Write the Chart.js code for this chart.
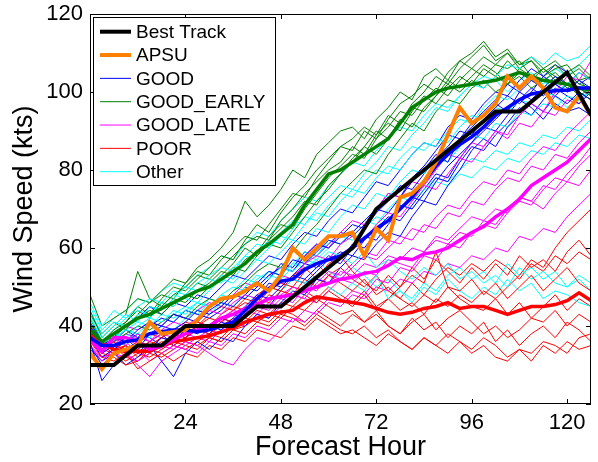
<!DOCTYPE html>
<html>
<head>
<meta charset="utf-8">
<script src="https://cdn.jsdelivr.net/npm/chart.js@4.4.1/dist/chart.umd.min.js"></script>
<style>
  body { margin: 0; background: #fff; }
  #wrap { width: 598px; height: 462px; }
</style>
</head>
<body>
<div id="wrap"><canvas id="windChart" width="598" height="462"></canvas></div>
<script>
// forecast hours (ensemble members, APSU and means every 3 h)
var hours = [0,3,6,9,12,15,18,21,24,27,30,33,36,39,42,45,48,51,54,57,60,63,66,69,72,75,78,81,84,87,90,93,96,99,102,105,108,111,114,117,120,123,126];
// best track is 6-hourly
var bestHours = [0,6,12,18,24,30,36,42,48,54,60,66,72,78,84,90,96,102,108,114,120,126];
var bestTrack = [30,30,35,35,40,40,40,45,45,50,55,60,70,75,80,85,90,95,95,100,105,94];

var apsu = [33,29,33,34,35,41,38,38.5,39,41.5,45, 47,47.5,49,51,49,53,60,57,60,63,63, 64,58,65,62,73,74,77,82,89,96,92, 94,97,104,101,104,101,96,95,99,94];

// group means (thick lines)
var meanGood  = [37,35,35,36,36.5,38,38.5,39,39,38.5,39, 40,41,44,47,49.5,51.5,52,54.5,56,57,58, 60,62.5,65,67,70,73,77,81,84,86.5,88.5, 91,94,96,98,99.5,100,100.3,100.5,101,101];
var meanEarly = [39,36,38,40,42,43,44.5,46,47.5,49,50, 52,54,56,59,61,63.5,66,71,75,79,80, 82,84,86,88,92,96,98,100,101,101.5,102, 102.5,103,104,105,104,103,102.5,102,101,100.5];
var meanLate  = [36.5,33.5,37,37,36,34,35,36.5,38,39,40, 42,43,44.5,45.5,47,47.5,48,49,50,51,52, 52.5,53.5,54,55.5,57.5,57,58.5,59,60,62,64, 65.5,68,70,72.5,76,78,80,82,85,88];
var meanPoor  = [38.5,35.5,34,33.5,33.5,33.5,35,36,36.5,37,37.5, 38.5,39.5,41,42,43,43.5,44,46,47.5,47,46.5, 46,45.5,44.5,43.5,43,43.5,44.5,45,46,44.5,45, 45,44,43,44,45,45,45.5,46.5,48.5,46.5];

// GOOD members
var goodMembers = [
  [36,26,30,33,35,34,37,36,39,38,40, 39,42,45,48,47,50,53,52,55,57,56, 60,63,62,66,70,73,72,77,81,84,87, 90,93,96,98,101,99,102,100,103,101],
  [40,35,37,36,39,41,40,43,42,41,44, 46,45,48,51,54,53,57,56,59,62,61, 64,67,70,69,73,77,80,84,82,88,91, 94,97,95,100,103,101,104,102,105,103],
  [34,31,33,30,32,35,31,27,33,36,34, 37,36,40,43,42,46,49,48,52,51,55, 58,57,61,64,63,68,72,71,76,80,85, 88,86,91,94,97,95,99,97,100,98],
  [38,33,35,37,34,38,40,39,41,44,43, 45,48,47,50,53,55,54,58,61,60,63, 66,65,69,72,76,75,79,83,86,90,89, 93,96,99,97,100,104,102,100,101,99],
  [37,32,34,36,38,37,35,38,37,40,39, 42,41,44,47,51,50,53,56,55,58,57, 61,60,64,67,71,70,74,78,77,82,86, 85,89,92,96,94,98,101,99,97,100],
  [41,36,38,40,42,45,43,46,45,48,47, 50,53,52,55,58,57,61,64,63,67,70, 69,73,77,76,80,84,87,86,91,94,93, 97,100,99,103,106,104,107,105,102,104],
  [35,30,33,35,33,36,38,35,37,39,38, 41,40,43,46,45,49,52,51,54,57,59, 58,62,65,68,67,71,75,79,78,83,87, 91,90,94,98,96,93,97,95,96,94],
  [39,34,36,39,37,40,42,41,44,43,42, 44,47,50,49,52,56,55,59,58,61,64, 63,66,70,74,73,78,81,85,89,88,92, 95,98,102,100,98,101,99,102,100,98]
];

// GOOD_EARLY members
var earlyMembers = [
  [48,40,42,44,47,46,49,52,51,55,57, 60,64,72,68,71,75,80,78,84,87,90, 91,88,93,96,100,98,104,106,103,108,110, 113,109,111,107,108,105,107,104,106,103],
  [44,37,40,43,54,47,45,48,50,53,52, 55,58,61,63,62,67,70,74,77,80,82, 86,84,89,92,90,95,99,97,101,104,102, 106,104,108,105,103,106,104,101,103,100],
  [41,35,38,40,42,44,43,46,48,47,50, 52,55,54,58,61,60,64,68,72,75,79, 82,86,84,88,93,91,96,99,102,100,103, 101,104,102,106,104,103,105,102,101,99],
  [38,34,36,38,40,39,41,43,42,45,47, 46,49,51,54,56,55,59,63,66,70,74, 77,80,79,84,88,92,90,95,98,97,101, 103,100,102,105,103,101,104,102,100,98],
  [42,36,39,41,45,43,47,50,49,52,55, 58,57,62,66,64,69,73,76,80,83,86, 85,90,88,93,97,99,102,100,105,108,106, 109,107,106,108,104,106,103,105,102,101],
  [40,36,37,40,42,45,44,47,46,49,51, 54,53,57,59,63,66,65,70,74,78,81, 84,83,88,91,95,94,98,101,99,103,106, 104,107,110,106,108,104,106,107,103,104],
  [43,38,41,39,43,46,48,47,51,54,53, 57,60,63,62,66,70,74,73,78,82,86, 88,91,89,94,92,97,100,104,102,106,109, 112,108,110,107,109,106,108,105,107,104],
  [39,34,37,41,44,42,46,45,48,51,50, 53,56,60,58,62,65,68,72,71,76,79, 83,86,90,88,92,96,95,99,103,101,104, 107,105,102,104,101,103,100,102,99,101]
];

// GOOD_LATE members
var lateMembers = [
  [36,33,37,35,38,36,39,41,40,42,44, 43,46,48,47,50,53,52,56,58,57,61, 63,62,66,69,68,72,76,75,79,83,82, 86,90,89,94,97,95,100,104,103,108],
  [35,31,34,33,31,33,35,34,36,35,33, 31,30,34,37,36,39,42,41,44,47,46, 49,48,52,51,55,54,58,57,61,60,64, 66,65,69,72,71,75,78,77,81,84],
  [38,34,36,33,30,27,31,33,35,37,36, 39,41,40,43,46,45,48,47,51,54,53, 56,59,58,62,61,65,64,68,71,70,74, 77,76,80,79,83,86,85,89,92,95],
  [37,34,35,38,37,36,38,37,39,41,40, 42,44,43,46,45,48,50,49,52,51,54, 53,56,55,58,57,60,59,63,62,65,68, 67,70,69,73,72,76,75,79,82,86],
  [39,35,38,40,39,41,40,43,42,44,46, 45,48,51,50,53,55,54,58,61,60,64, 67,66,70,74,73,77,76,80,84,83,87, 86,90,88,92,91,95,94,98,97,101],
  [34,32,33,32,34,31,33,35,34,33,36, 35,38,37,40,39,42,41,44,43,46,45, 48,47,50,49,52,51,54,53,56,55,58, 57,60,59,63,62,65,64,68,71,74],
  [36,33,36,37,35,34,37,39,38,40,39, 41,43,42,45,44,47,46,50,49,53,52, 55,58,57,60,63,62,66,65,69,68,72, 71,75,78,77,81,80,84,83,87,90],
  [35,32,34,36,33,35,34,36,38,37,39, 38,41,44,43,42,45,48,47,46,49,52, 51,54,53,57,56,55,59,62,61,64,63, 67,66,70,73,72,70,74,77,76,80]
];

// POOR members
var poorMembers = [
  [39,35,36,33,34,36,35,38,37,40,39, 42,41,44,47,46,49,48,52,50,53,51, 49,52,48,50,47,45,48,46,50,49,52, 48,51,47,50,53,49,52,55,51,49],
  [37,33,32,30,31,33,32,34,36,35,37, 36,39,38,41,43,42,45,44,47,45,43, 44,41,43,40,38,42,39,41,37,40,38, 41,36,39,35,38,40,37,41,39,36],
  [40,36,34,35,33,35,37,36,39,41,40, 43,45,44,48,50,49,53,55,52,56,58, 54,51,49,53,50,55,52,57,54,51,55, 52,56,53,58,55,57,54,59,62,58],
  [36,32,31,33,29,31,33,31,33,32,35, 34,37,36,39,38,37,40,39,42,40,38, 39,37,35,38,36,34,37,35,33,36,34, 37,35,32,34,31,35,33,36,34,35],
  [38,34,35,34,36,35,37,39,38,40,42, 41,44,46,45,48,47,50,49,47,50,48, 46,49,45,47,44,46,43,47,45,48,46, 49,47,50,53,57,55,60,64,67,70],
  [39,35,33,35,32,34,36,35,37,39,38, 40,42,41,44,43,46,45,48,46,49,47, 45,48,44,47,50,53,51,59,50,47,45, 44,47,43,46,42,45,48,44,47,45],
  [38,34,33,31,33,32,34,36,35,34,37, 36,39,40,42,41,44,43,41,44,42,40, 43,41,44,40,38,41,43,39,42,44,41, 38,40,37,39,42,41,44,40,43,41],
  [37,33,35,32,31,34,33,35,34,36,38, 37,40,42,41,40,43,42,40,43,41,39, 38,40,37,39,36,34,37,35,38,36,33, 35,32,31,34,33,36,35,33,37,38],
  [40,36,35,37,36,38,37,39,41,40,43, 45,44,47,46,49,51,50,54,56,53,55, 52,50,53,49,47,51,48,52,55,53,56, 54,57,55,52,56,54,58,56,59,57]
];

// Other members
var otherMembers = [
  [46,40,44,42,45,47,46,49,48,51,53, 55,54,58,61,60,64,67,66,70,73,76, 75,79,82,86,85,89,92,96,95,99,102, 101,104,107,106,109,107,110,108,109,112],
  [42,37,40,43,41,45,44,47,50,49,52, 51,55,58,57,60,63,62,66,69,68,72, 75,74,78,81,80,84,87,86,90,93,92, 96,99,98,101,104,103,100,102,105,103],
  [40,35,38,37,40,42,41,44,43,46,45, 48,47,50,53,52,55,54,57,56,59,58, 56,59,55,57,54,52,55,53,56,52,54, 51,53,50,55,52,54,51,50,52,49],
  [44,38,41,40,43,42,45,48,47,46,49, 52,51,54,57,56,59,62,61,65,64,68, 71,70,74,73,77,80,79,83,82,86,89, 88,92,91,95,94,97,96,99,98,100],
  [38,33,36,35,38,37,40,39,42,44,43, 46,45,48,47,50,49,52,51,53,50,48, 51,49,53,47,49,46,50,48,52,49,47, 50,48,52,49,51,47,49,48,46,45],
  [43,36,39,42,44,43,46,45,48,47,50, 53,52,56,59,62,61,65,68,67,71,74, 73,77,80,79,83,86,85,88,87,91,94, 93,96,95,98,97,100,99,96,98,101],
  [41,36,37,39,38,41,40,43,45,44,47, 46,49,52,51,54,53,56,59,58,62,61, 64,67,66,70,73,72,75,78,77,80,83, 82,85,84,87,86,89,88,91,90,93],
  [39,34,37,39,41,40,43,42,44,46,45, 48,50,49,52,54,53,56,55,57,54,52, 55,53,50,52,49,47,51,49,53,55,52, 54,51,56,53,55,52,54,50,53,51],
  [45,39,42,44,47,46,49,51,50,53,55, 58,57,61,64,63,67,70,73,72,76,79, 82,81,85,88,91,90,94,97,96,99,102, 104,103,100,103,105,102,106,104,107,110],
  [37,34,36,38,37,40,42,41,44,43,46, 45,48,47,50,53,52,55,58,57,60,63, 62,65,68,67,71,70,74,77,76,79,78, 81,80,83,82,85,84,87,86,89,88]
];

var xTicks = [24,48,72,96,120];
var legendNames = ['Best Track','APSU','GOOD','GOOD_EARLY','GOOD_LATE','POOR','Other'];

var FONT = '"Liberation Sans", Arial, Helvetica, sans-serif';
var colors = {
  'Best Track': '#000000', 'APSU': '#ff8000', 'GOOD': '#0000ff', 'GOOD_EARLY': '#008000',
  'GOOD_LATE': '#ff00ff', 'POOR': '#ff0000', 'Other': '#00ffff'
};

function toPoints(xs, ys) {
  return ys.map(function(v, i) { return {x: xs[i], y: v}; });
}
function line(label, xs, ys, color, width) {
  return { label: label, data: toPoints(xs, ys), borderColor: color, backgroundColor: color,
           borderWidth: width, pointRadius: 0, fill: false, tension: 0 };
}

// dataset 0 is drawn on top in Chart.js, so the heavy lines go first
var datasets = [];
datasets.push(line('Best Track', bestHours, bestTrack, colors['Best Track'], 4));
datasets.push(line('APSU', hours, apsu, colors['APSU'], 4));
datasets.push(line('GOOD mean', hours, meanGood, colors['GOOD'], 3.5));
datasets.push(line('GOOD_LATE mean', hours, meanLate, colors['GOOD_LATE'], 3.5));
datasets.push(line('GOOD_EARLY mean', hours, meanEarly, colors['GOOD_EARLY'], 3.5));
datasets.push(line('POOR mean', hours, meanPoor, colors['POOR'], 3.5));

var groups = [
  ['Other', otherMembers], ['GOOD', goodMembers], ['GOOD_EARLY', earlyMembers],
  ['GOOD_LATE', lateMembers], ['POOR', poorMembers]
];
for (var k = 0; k < 10; k++) {
  groups.forEach(function(g) {
    if (g[1][k]) datasets.push(line(g[0], hours, g[1][k], colors[g[0]], 1));
  });
}

// matlab style box with inward ticks, and the boxed legend in the top left corner
var frameAndLegend = {
  id: 'frameAndLegend',
  afterDatasetsDraw: function(chart) {
    var ctx = chart.ctx, a = chart.chartArea;
    var xs = chart.scales.x, ys = chart.scales.y;
    ctx.save();
    ctx.strokeStyle = '#000';
    ctx.lineWidth = 1;
    ctx.strokeRect(a.left + 0.5, a.top + 0.5, a.right - a.left - 1, a.bottom - a.top - 1);
    ctx.beginPath();
    xTicks.forEach(function(v) {
      var px = Math.round(xs.getPixelForValue(v)) + 0.5;
      ctx.moveTo(px, a.bottom); ctx.lineTo(px, a.bottom - 5);
      ctx.moveTo(px, a.top); ctx.lineTo(px, a.top + 5);
    });
    ys.ticks.forEach(function(t) {
      var py = Math.round(ys.getPixelForValue(t.value)) + 0.5;
      ctx.moveTo(a.left, py); ctx.lineTo(a.left + 5, py);
      ctx.moveTo(a.right, py); ctx.lineTo(a.right - 5, py);
    });
    ctx.stroke();

    // legend
    var lx = a.left + 3, ly = a.top + 3, lw = 182, lh = 168;
    ctx.fillStyle = '#fff';
    ctx.fillRect(lx, ly, lw, lh);
    ctx.strokeRect(lx + 0.5, ly + 0.5, lw, lh);
    ctx.font = '19px ' + FONT;
    ctx.textBaseline = 'middle';
    ctx.textAlign = 'left';
    legendNames.forEach(function(name, i) {
      var ds = chart.data.datasets.find(function(d) { return d.label === name; });
      var y = ly + 14.7 + i * 23.33;
      ctx.beginPath();
      ctx.strokeStyle = ds.borderColor;
      ctx.lineWidth = ds.borderWidth;
      ctx.moveTo(lx + 7, y); ctx.lineTo(lx + 38, y);
      ctx.stroke();
      ctx.fillStyle = '#000';
      ctx.fillText(name, lx + 43, y + 1);
    });
    ctx.restore();
  }
};

new Chart(document.getElementById('windChart'), {
  type: 'line',
  data: { datasets: datasets },
  options: {
    responsive: false,
    animation: false,
    layout: { padding: { top: 14, right: 7, left: 0, bottom: 0 } },
    plugins: { legend: { display: false }, tooltip: { enabled: false } },
    scales: {
      x: {
        type: 'linear', min: 0, max: 126,
        afterBuildTicks: function(scale) { scale.ticks = xTicks.map(function(v) { return {value: v}; }); },
        afterFit: function(scale) { scale.height = 58; scale.paddingLeft = 0; scale.paddingRight = 0; },
        grid: { display: false, drawTicks: false },
        border: { display: false },
        ticks: { autoSkip: false, maxRotation: 0, padding: 6, color: '#000', font: { family: FONT, size: 22, lineHeight: 1.2 } },
        title: { display: true, text: 'Forecast Hour', color: '#000', padding: { top: 0, bottom: 0.5 },
                 font: { family: FONT, size: 27, lineHeight: 1 } }
      },
      y: {
        min: 20, max: 120,
        afterFit: function(scale) { scale.width = 90; scale.paddingTop = 0; scale.paddingBottom = 0; },
        grid: { display: false, drawTicks: false },
        border: { display: false },
        ticks: { stepSize: 20, padding: 7, color: '#000', font: { family: FONT, size: 22, lineHeight: 1.2 } },
        title: { display: true, text: 'Wind Speed (kts)', color: '#000', padding: { top: 11, bottom: 0 },
                 font: { family: FONT, size: 27, lineHeight: 1 } }
      }
    }
  },
  plugins: [frameAndLegend]
});
</script>
</body>
</html>
